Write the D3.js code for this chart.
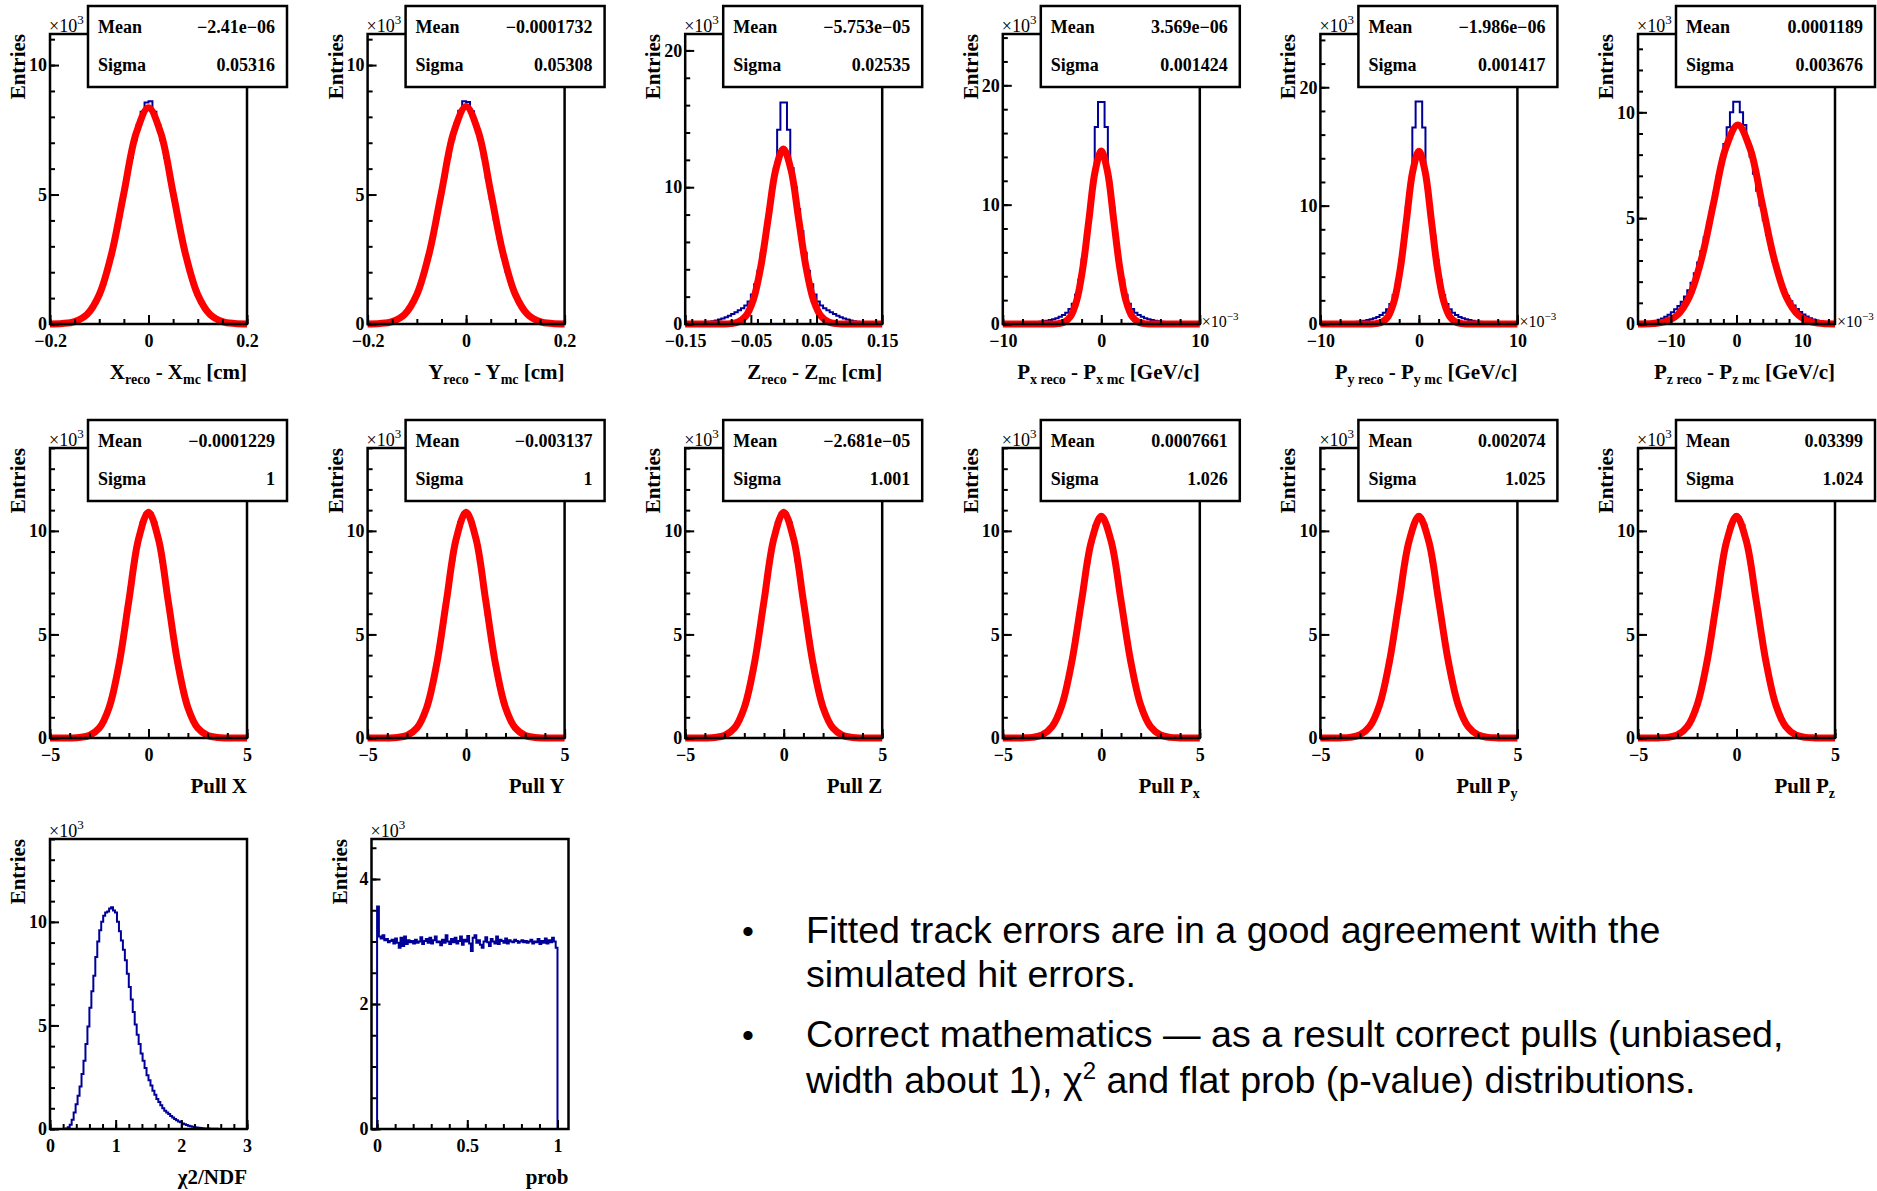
<!DOCTYPE html>
<html lang="en">
<head>
<meta charset="UTF-8">
<title>Track fit residuals, pulls, chi2 and prob</title>
<script src="https://d3js.org/d3.v7.min.js"></script>
<style>
  body { margin: 0; background: #fff; }
  svg text { font-family: "Liberation Serif", "Times New Roman", serif; }
</style>
</head>
<body>
<script>
// all counts are in units of 10^3 entries

// residuals, row 1
const resXBins = [0, 0.01, 0.01, 0.02, 0.04, 0.06, 0.10, 0.16, 0.25, 0.38, 0.56, 0.80, 1.12, 1.53, 2.02, 2.62, 3.3, 4.04, 4.83, 5.64, 6.41, 7.1, 7.7, 8.2, 8.55,
                  8.6, 8.2, 7.7, 7.1, 6.41, 5.64, 4.83, 4.04, 3.3, 2.62, 2.02, 1.53, 1.12, 0.80, 0.56, 0.38, 0.25, 0.16, 0.10, 0.06, 0.04, 0.02, 0.01, 0.01, 0];
const resXFitX = [-0.2, -0.175, -0.15, -0.125, -0.1, -0.075, -0.05, -0.025, 0, 0.025, 0.05, 0.075, 0.1, 0.125, 0.15, 0.175, 0.2];
const resXFitY = [0.0025, 0.018, 0.093, 0.367, 1.13, 2.71, 5.06, 7.37, 8.35, 7.37, 5.06, 2.71, 1.13, 0.367, 0.093, 0.018, 0.0025];

const resYBins = [0, 0.01, 0.01, 0.02, 0.04, 0.06, 0.10, 0.16, 0.25, 0.38, 0.56, 0.81, 1.13, 1.54, 2.03, 2.64, 3.32, 4.07, 4.86, 5.67, 6.45, 7.14, 7.74, 8.24, 8.6,
                  8.57, 8.22, 7.72, 7.12, 6.42, 5.64, 4.83, 4.04, 3.3, 2.62, 2.02, 1.53, 1.12, 0.80, 0.56, 0.38, 0.25, 0.16, 0.10, 0.06, 0.04, 0.02, 0.01, 0.01, 0];
const resYFitX = [-0.2, -0.175, -0.15, -0.125, -0.1, -0.075, -0.05, -0.025, 0, 0.025, 0.05, 0.075, 0.1, 0.125, 0.15, 0.175, 0.2];
const resYFitY = [0.0025, 0.018, 0.093, 0.369, 1.14, 2.73, 5.09, 7.41, 8.4, 7.41, 5.09, 2.73, 1.14, 0.369, 0.093, 0.018, 0.0025];

const resZBins = [0.05, 0.06, 0.07, 0.08, 0.10, 0.12, 0.14, 0.17, 0.21, 0.26, 0.32, 0.40, 0.50, 0.61, 0.73, 0.86, 1.0, 1.15, 1.35, 1.65, 2.15, 2.9, 3.9, 5.2, 6.8, 8.4, 10.0, 11.4, 14.2, 16.2,
                  16.2, 14.2, 11.4, 10.0, 8.4, 6.8, 5.2, 3.9, 2.9, 2.15, 1.65, 1.35, 1.15, 1.0, 0.86, 0.73, 0.61, 0.50, 0.40, 0.32, 0.26, 0.21, 0.17, 0.14, 0.12, 0.10, 0.08, 0.07, 0.06, 0.05];
const resZFitX = [-0.15, -0.0925, -0.081, -0.0695, -0.058, -0.0465, -0.035, -0.0235, -0.012, -0.0005, 0.011, 0.0225, 0.034, 0.0455, 0.057, 0.0685, 0.08, 0.0915, 0.15];
const resZFitY = [0, 0.004, 0.028, 0.142, 0.562, 1.73, 4.16, 7.76, 11.3, 12.8, 11.3, 7.76, 4.16, 1.73, 0.562, 0.142, 0.028, 0.004, 0];

// momentum residuals, x axis in 10^-3 GeV/c
const resPxBins = [0.02, 0.03, 0.03, 0.04, 0.05, 0.06, 0.07, 0.08, 0.10, 0.12, 0.15, 0.18, 0.22, 0.27, 0.33, 0.40, 0.49, 0.60, 0.75, 0.95, 1.25, 1.7, 2.45, 3.7, 5.4, 7.5, 9.8, 12.0, 16.5, 18.6,
                   18.6, 16.5, 12.0, 9.8, 7.5, 5.4, 3.7, 2.45, 1.7, 1.25, 0.95, 0.75, 0.60, 0.49, 0.40, 0.33, 0.27, 0.22, 0.18, 0.15, 0.12, 0.10, 0.08, 0.07, 0.06, 0.05, 0.04, 0.03, 0.03, 0.02];
const resPxFitX = [-10, -5, -4.375, -3.75, -3.125, -2.5, -1.875, -1.25, -0.625, 0, 0.625, 1.25, 1.875, 2.5, 3.125, 3.75, 4.375, 5, 10];
const resPxFitY = [0, 0.0044, 0.032, 0.161, 0.637, 1.96, 4.71, 8.79, 12.8, 14.5, 12.8, 8.79, 4.71, 1.96, 0.637, 0.161, 0.032, 0.0044, 0];

const resPyBins = [0.02, 0.03, 0.03, 0.04, 0.05, 0.06, 0.07, 0.08, 0.10, 0.12, 0.15, 0.18, 0.22, 0.27, 0.33, 0.40, 0.49, 0.60, 0.75, 0.95, 1.25, 1.7, 2.45, 3.7, 5.4, 7.5, 9.9, 12.1, 16.6, 18.8,
                   18.8, 16.6, 12.1, 9.9, 7.5, 5.4, 3.7, 2.45, 1.7, 1.25, 0.95, 0.75, 0.60, 0.49, 0.40, 0.33, 0.27, 0.22, 0.18, 0.15, 0.12, 0.10, 0.08, 0.07, 0.06, 0.05, 0.04, 0.03, 0.03, 0.02];
const resPyFitX = [-10, -5, -4.375, -3.75, -3.125, -2.5, -1.875, -1.25, -0.625, 0, 0.625, 1.25, 1.875, 2.5, 3.125, 3.75, 4.375, 5, 10];
const resPyFitY = [0, 0.0044, 0.032, 0.162, 0.641, 1.98, 4.74, 8.86, 12.9, 14.6, 12.9, 8.86, 4.74, 1.98, 0.641, 0.162, 0.032, 0.0044, 0];

const resPzBins = [0.04, 0.05, 0.06, 0.08, 0.11, 0.15, 0.20, 0.26, 0.34, 0.44, 0.56, 0.70, 0.85, 1.05, 1.3, 1.6, 1.95, 2.4, 2.9, 3.45, 4.1, 4.8, 5.5, 6.2, 7.0, 7.8, 8.5, 9.3, 10.0, 10.5,
                   10.5, 10.0, 9.4, 8.6, 7.9, 7.1, 6.3, 5.6, 4.9, 4.2, 3.55, 2.95, 2.45, 2.0, 1.62, 1.32, 1.07, 0.87, 0.71, 0.57, 0.45, 0.35, 0.27, 0.21, 0.16, 0.12, 0.09, 0.07, 0.05, 0.04];
const resPzFitX = [-15, -12.75, -10.9, -9.05, -7.2, -5.35, -3.5, -1.65, 0.2, 2.05, 3.9, 5.75, 7.6, 9.45, 11.3, 13.15, 15];
const resPzFitY = [0.002, 0.021, 0.104, 0.413, 1.27, 3.05, 5.70, 8.30, 9.4, 8.30, 5.70, 3.05, 1.27, 0.413, 0.104, 0.021, 0.002];

// pulls, row 2
const pullXBins = [0, 0, 0, 0, 0, 0, 0.01, 0.02, 0.05, 0.09, 0.16, 0.28, 0.48, 0.77, 1.20, 1.79, 2.57, 3.54, 4.69, 5.95, 7.27, 8.53, 9.62, 10.42, 10.85,
                   10.86, 10.41, 9.61, 8.52, 7.26, 5.94, 4.68, 3.53, 2.56, 1.78, 1.19, 0.77, 0.48, 0.28, 0.16, 0.09, 0.05, 0.02, 0.01, 0, 0, 0, 0, 0, 0];
const pullYBins = [0, 0, 0, 0, 0, 0, 0.01, 0.02, 0.05, 0.09, 0.16, 0.28, 0.48, 0.78, 1.21, 1.80, 2.58, 3.55, 4.70, 5.96, 7.28, 8.54, 9.63, 10.43, 10.86,
                   10.84, 10.40, 9.60, 8.51, 7.25, 5.93, 4.67, 3.52, 2.55, 1.77, 1.19, 0.76, 0.47, 0.28, 0.16, 0.09, 0.05, 0.02, 0.01, 0, 0, 0, 0, 0, 0];
const pullZBins = [0, 0, 0, 0, 0, 0, 0.01, 0.02, 0.05, 0.09, 0.16, 0.28, 0.48, 0.77, 1.20, 1.79, 2.57, 3.54, 4.69, 5.95, 7.27, 8.53, 9.62, 10.42, 10.85,
                   10.85, 10.42, 9.62, 8.53, 7.27, 5.95, 4.69, 3.54, 2.57, 1.79, 1.20, 0.77, 0.48, 0.28, 0.16, 0.09, 0.05, 0.02, 0.01, 0, 0, 0, 0, 0, 0];
const pullPxBins = [0, 0, 0, 0, 0, 0.01, 0.01, 0.03, 0.06, 0.11, 0.19, 0.33, 0.55, 0.86, 1.31, 1.92, 2.7, 3.67, 4.79, 6.01, 7.28, 8.47, 9.5, 10.25, 10.65,
                    10.66, 10.26, 9.51, 8.48, 7.29, 6.02, 4.80, 3.68, 2.71, 1.93, 1.32, 0.87, 0.55, 0.33, 0.19, 0.11, 0.06, 0.03, 0.01, 0.01, 0, 0, 0, 0, 0];
const pullPyBins = [0, 0, 0, 0, 0, 0.01, 0.01, 0.03, 0.06, 0.11, 0.19, 0.33, 0.55, 0.86, 1.31, 1.92, 2.7, 3.67, 4.78, 6.0, 7.27, 8.46, 9.49, 10.24, 10.64,
                    10.66, 10.26, 9.51, 8.48, 7.29, 6.02, 4.80, 3.68, 2.71, 1.93, 1.32, 0.87, 0.55, 0.33, 0.19, 0.11, 0.06, 0.03, 0.01, 0.01, 0, 0, 0, 0, 0];
const pullPzBins = [0, 0, 0, 0, 0, 0.01, 0.01, 0.03, 0.05, 0.10, 0.18, 0.31, 0.52, 0.82, 1.26, 1.86, 2.63, 3.60, 4.72, 5.95, 7.23, 8.43, 9.47, 10.23, 10.65,
                    10.67, 10.28, 9.55, 8.53, 7.35, 6.08, 4.86, 3.74, 2.77, 1.98, 1.36, 0.90, 0.57, 0.35, 0.20, 0.12, 0.06, 0.03, 0.01, 0.01, 0, 0, 0, 0, 0];

const pullFitX = [-5, -4, -3.5, -3, -2.5, -2, -1.5, -1, -0.5, 0, 0.5, 1, 1.5, 2, 2.5, 3, 3.5, 4, 5];
const pullXFitY = [0, 0.003, 0.024, 0.121, 0.479, 1.47, 3.54, 6.61, 9.62, 10.9, 9.62, 6.61, 3.54, 1.47, 0.479, 0.121, 0.024, 0.003, 0];
const pullPFitY = [0, 0.005, 0.031, 0.148, 0.546, 1.59, 3.67, 6.64, 9.50, 10.7, 9.50, 6.64, 3.67, 1.59, 0.546, 0.148, 0.031, 0.005, 0];

// chi2/NDF and prob, row 3
const chi2Bins = [0, 0, 0, 0, 0, 0, 0, 0, 0.02, 0.08, 0.2, 0.45, 0.8, 1.2, 1.6, 2.05, 2.65, 3.3, 4.1, 4.95,
                  5.85, 6.65, 7.4, 8.3, 9.05, 9.6, 10.0, 10.3, 10.45, 10.5, 10.65, 10.7, 10.55, 10.45, 10.0, 9.55, 9.1, 8.65, 8.15, 7.5,
                  6.85, 6.25, 5.65, 5.05, 4.55, 4.1, 3.65, 3.3, 2.95, 2.6, 2.35, 2.1, 1.85, 1.65, 1.45, 1.3, 1.15, 1.0, 0.88, 0.8,
                  0.72, 0.63, 0.55, 0.48, 0.42, 0.36, 0.32, 0.27, 0.23, 0.19, 0.16, 0.13, 0.11, 0.09, 0.07, 0.06, 0.05, 0.04, 0.03, 0.02,
                  0.02, 0.01, 0.01, 0.01, 0.01, 0, 0, 0, 0, 0, 0, 0, 0, 0, 0, 0, 0, 0, 0, 0];
const probBins = [3.56, 3.08, 3.05, 3.1, 3.02, 3.04, 2.99, 3.01, 3.03, 2.97,
                  3.05, 2.98, 2.9, 3.06, 2.93, 3.08, 2.96, 3.02, 2.99, 3.01,
                  2.97, 3.03, 2.98, 3.0, 3.07, 2.96, 3.01, 3.04, 2.98, 3.06,
                  2.97, 3.02, 3.08, 2.99, 3.0, 2.94, 3.03, 2.98, 3.1, 3.0,
                  2.96, 3.04, 2.99, 3.06, 2.97, 3.01, 3.08, 2.95, 3.03, 3.0,
                  3.09, 2.97, 2.85, 3.06, 3.1, 2.98, 3.02, 2.95, 2.9, 3.0,
                  3.07, 2.99, 2.93, 3.04, 3.0, 2.97, 3.08, 2.96, 3.03, 3.01,
                  2.98, 3.05, 2.97, 3.02, 3.0, 2.99, 3.03, 3.01, 2.98, 3.0,
                  3.02, 2.99, 3.01, 2.98, 3.0, 3.03, 2.97, 3.0, 2.99, 3.04,
                  2.96, 3.01, 2.98, 3.05, 2.97, 3.02, 2.99, 3.06, 3.0, 2.9];

// stats boxes
const statMean = ["\u22122.41e\u221206", "\u22120.0001732", "\u22125.753e\u221205", "3.569e\u221206", "\u22121.986e\u221206", "0.0001189",
                  "\u22120.0001229", "\u22120.003137", "\u22122.681e\u221205", "0.0007661", "0.002074", "0.03399"];
const statSigma = ["0.05316", "0.05308", "0.02535", "0.001424", "0.001417", "0.003676",
                   "1", "1", "1.001", "1.026", "1.025", "1.024"];

// axis titles: [text, "sub"|"sup"]
const titles = [
  [["X"], ["reco", "sub"], [" - X"], ["mc", "sub"], [" [cm]"]],
  [["Y"], ["reco", "sub"], [" - Y"], ["mc", "sub"], [" [cm]"]],
  [["Z"], ["reco", "sub"], [" - Z"], ["mc", "sub"], [" [cm]"]],
  [["P"], ["x reco", "sub"], [" - P"], ["x mc", "sub"], [" [GeV/c]"]],
  [["P"], ["y reco", "sub"], [" - P"], ["y mc", "sub"], [" [GeV/c]"]],
  [["P"], ["z reco", "sub"], [" - P"], ["z mc", "sub"], [" [GeV/c]"]],
  [["Pull X"]], [["Pull Y"]], [["Pull Z"]],
  [["Pull P"], ["x", "sub"]], [["Pull P"], ["y", "sub"]], [["Pull P"], ["z", "sub"]],
  [["\u03c72/NDF"]], [["prob"]]
];

const bulletText = [
  [[["Fitted track errors are in a good agreement with the"]], [["simulated hit errors."]]],
  [[["Correct mathematics \u2014 as a result correct pulls (unbiased,"]],
   [["width about 1), \u03c7"], ["2", "sup"], [" and flat prob (p-value) distributions."]]]
];

// ---- layout ----
const COLS = [50, 367.6, 685.2, 1002.8, 1320.4, 1638];
const ROWS = [34, 448, 839];
const W = 197, H = 290;

const panels = [
  {left: COLS[0], top: ROWS[0], xDomain: [-0.2, 0.2], histRange: [-0.2, 0.2], yMax: 11.2, bins: resXBins, fitX: resXFitX, fitY: resXFitY, xMajor: [-0.2, 0, 0.2], xStep: 0.05, yMajor: [0, 5, 10], yStep: 1},
  {left: COLS[1], top: ROWS[0], xDomain: [-0.2, 0.2], histRange: [-0.2, 0.2], yMax: 11.2, bins: resYBins, fitX: resYFitX, fitY: resYFitY, xMajor: [-0.2, 0, 0.2], xStep: 0.05, yMajor: [0, 5, 10], yStep: 1},
  {left: COLS[2], top: ROWS[0], xDomain: [-0.15, 0.15], histRange: [-0.15, 0.15], yMax: 21.2, bins: resZBins, fitX: resZFitX, fitY: resZFitY, xMajor: [-0.15, -0.05, 0.05, 0.15], xStep: 0.02, yMajor: [0, 10, 20], yStep: 2},
  {left: COLS[3], top: ROWS[0], xDomain: [-10, 10], histRange: [-10, 10], yMax: 24.3, bins: resPxBins, fitX: resPxFitX, fitY: resPxFitY, xMajor: [-10, 0, 10], xStep: 2, yMajor: [0, 10, 20], yStep: 2, xExp: true},
  {left: COLS[4], top: ROWS[0], xDomain: [-10, 10], histRange: [-10, 10], yMax: 24.5, bins: resPyBins, fitX: resPyFitX, fitY: resPyFitY, xMajor: [-10, 0, 10], xStep: 2, yMajor: [0, 10, 20], yStep: 2, xExp: true},
  {left: COLS[5], top: ROWS[0], xDomain: [-15, 15], histRange: [-15, 15], yMax: 13.7, bins: resPzBins, fitX: resPzFitX, fitY: resPzFitY, xMajor: [-10, 0, 10], xStep: 2, yMajor: [0, 5, 10], yStep: 1, xExp: true},
  {left: COLS[0], top: ROWS[1], xDomain: [-5, 5], histRange: [-5, 5], yMax: 14.0, bins: pullXBins, fitX: pullFitX, fitY: pullXFitY, xMajor: [-5, 0, 5], xStep: 1, yMajor: [0, 5, 10], yStep: 1},
  {left: COLS[1], top: ROWS[1], xDomain: [-5, 5], histRange: [-5, 5], yMax: 14.0, bins: pullYBins, fitX: pullFitX, fitY: pullXFitY, xMajor: [-5, 0, 5], xStep: 1, yMajor: [0, 5, 10], yStep: 1},
  {left: COLS[2], top: ROWS[1], xDomain: [-5, 5], histRange: [-5, 5], yMax: 14.0, bins: pullZBins, fitX: pullFitX, fitY: pullXFitY, xMajor: [-5, 0, 5], xStep: 1, yMajor: [0, 5, 10], yStep: 1},
  {left: COLS[3], top: ROWS[1], xDomain: [-5, 5], histRange: [-5, 5], yMax: 14.0, bins: pullPxBins, fitX: pullFitX, fitY: pullPFitY, xMajor: [-5, 0, 5], xStep: 1, yMajor: [0, 5, 10], yStep: 1},
  {left: COLS[4], top: ROWS[1], xDomain: [-5, 5], histRange: [-5, 5], yMax: 14.0, bins: pullPyBins, fitX: pullFitX, fitY: pullPFitY, xMajor: [-5, 0, 5], xStep: 1, yMajor: [0, 5, 10], yStep: 1},
  {left: COLS[5], top: ROWS[1], xDomain: [-5, 5], histRange: [-5, 5], yMax: 14.0, bins: pullPzBins, fitX: pullFitX, fitY: pullPFitY, xMajor: [-5, 0, 5], xStep: 1, yMajor: [0, 5, 10], yStep: 1},
  {left: 50, top: ROWS[2], xDomain: [0, 3], histRange: [0, 3], yMax: 14.0, bins: chi2Bins, xMajor: [0, 1, 2, 3], xStep: 0.2, yMajor: [0, 5, 10], yStep: 1},
  {left: 371.5, top: ROWS[2], xDomain: [-0.031, 1.061], histRange: [0, 1], yMax: 4.64, bins: probBins, xMajor: [0, 0.5, 1], xStep: 0.1, yMajor: [0, 2, 4], yStep: 0.5}
];

const svg = d3.select("body").append("svg")
    .attr("width", 1877)
    .attr("height", 1191)
    .style("display", "block");

function richText(t, parts, subSize, shift) {
  let cur = 0;
  parts.forEach(([s, kind]) => {
    const target = kind === "sub" ? shift : kind === "sup" ? -shift : 0;
    const ts = t.append("tspan").text(s);
    if (target !== cur) ts.attr("dy", target - cur);
    if (kind) ts.attr("font-size", subSize);
    cur = target;
  });
}

function minorTicks(dom, step) {
  const out = [];
  const k0 = Math.ceil(dom[0] / step - 1e-6), k1 = Math.floor(dom[1] / step + 1e-6);
  for (let k = k0; k <= k1; k++) out.push(+(k * step).toFixed(6));
  return out;
}

const fmt = v => (v < 0 ? "\u2212" + String(-v) : String(v));

function styleAxis(g) {
  g.select(".domain").remove();
  g.selectAll("line").attr("stroke", "#000").attr("stroke-width", 2);
  g.selectAll("text").attr("fill", "#000")
    .style("font-family", "'Liberation Serif', 'Times New Roman', serif")
    .style("font-size", "18px").style("font-weight", "bold");
}

function drawPanel(p, idx) {
  const left = p.left, top = p.top, right = left + W, bottom = top + H;
  const x = d3.scaleLinear().domain(p.xDomain).range([left, right]);
  const y = d3.scaleLinear().domain([0, p.yMax]).range([bottom, top]);
  const g = svg.append("g");

  // histogram outline
  const n = p.bins.length, h0 = p.histRange[0], bw = (p.histRange[1] - h0) / n;
  const hp = d3.path();
  hp.moveTo(x(h0), y(0));
  p.bins.forEach((v, i) => {
    hp.lineTo(x(h0 + i * bw), y(v));
    hp.lineTo(x(h0 + (i + 1) * bw), y(v));
  });
  hp.lineTo(x(p.histRange[1]), y(0));
  g.append("path").attr("d", hp.toString())
    .attr("fill", "none").attr("stroke", "#000099").attr("stroke-width", 2);

  // gaussian fit
  if (p.fitX) {
    const line = d3.line().x(d => x(d[0])).y(d => y(d[1])).curve(d3.curveCatmullRom);
    g.append("path").attr("d", line(d3.zip(p.fitX, p.fitY)))
      .attr("fill", "none").attr("stroke", "#ff0000").attr("stroke-width", 7)
      .attr("stroke-linejoin", "round");
  }

  // axes, ticks inside the frame
  g.append("g").attr("transform", `translate(0,${bottom})`)
    .call(d3.axisBottom(x).tickValues(minorTicks(p.xDomain, p.xStep)).tickSize(-5).tickFormat(""))
    .call(styleAxis);
  g.append("g").attr("transform", `translate(0,${bottom})`)
    .call(d3.axisBottom(x).tickValues(p.xMajor).tickSize(-9).tickPadding(10).tickFormat(fmt))
    .call(styleAxis);
  g.append("g").attr("transform", `translate(${left},0)`)
    .call(d3.axisLeft(y).tickValues(minorTicks([0, p.yMax], p.yStep)).tickSize(-5).tickFormat(""))
    .call(styleAxis);
  g.append("g").attr("transform", `translate(${left},0)`)
    .call(d3.axisLeft(y).tickValues(p.yMajor).tickSize(-9).tickPadding(3).tickFormat(fmt))
    .call(styleAxis);

  g.append("rect").attr("x", left).attr("y", top).attr("width", W).attr("height", H)
    .attr("fill", "none").attr("stroke", "#000").attr("stroke-width", 2.5);

  // x10^3 on the y axis
  const ex = g.append("text").attr("x", left - 1).attr("y", top - 2).attr("font-size", 18);
  richText(ex, [["\u00d710"], ["3", "sup"]], 13, 8);
  if (p.xExp) {
    const ex2 = g.append("text").attr("x", right + 2).attr("y", bottom + 3).attr("font-size", 16);
    richText(ex2, [["\u00d710"], ["\u22123", "sup"]], 11, 7);
  }

  // titles
  const tt = g.append("text").attr("x", right).attr("y", bottom + 55)
    .attr("text-anchor", "end").attr("font-size", 21).attr("font-weight", "bold");
  richText(tt, titles[idx], 14, 5);
  g.append("text").attr("transform", `translate(${left - 25},${top}) rotate(-90)`)
    .attr("text-anchor", "end").attr("font-size", 21).attr("font-weight", "bold")
    .text("Entries");

  // stats box
  if (idx < statMean.length) {
    const bx = left + 38, by = top - 28, bwid = 199, bh = 81;
    g.append("rect").attr("x", bx).attr("y", by).attr("width", bwid).attr("height", bh)
      .attr("fill", "#fff").attr("stroke", "#000").attr("stroke-width", 2.5);
    const rows = [["Mean", statMean[idx], 27], ["Sigma", statSigma[idx], 65]];
    rows.forEach(([k, v, dy]) => {
      g.append("text").attr("x", bx + 10).attr("y", by + dy)
        .attr("font-size", 18).attr("font-weight", "bold").text(k);
      g.append("text").attr("x", bx + bwid - 12).attr("y", by + dy).attr("text-anchor", "end")
        .attr("font-size", 18).attr("font-weight", "bold").text(v);
    });
  }
}

panels.forEach(drawPanel);

// bullet notes
const notes = svg.append("g").attr("class", "bullets");
const lineY = [[943, 987], [1047, 1093]];
bulletText.forEach((lines, b) => {
  notes.append("text").attr("x", 748).attr("y", lineY[b][0])
    .attr("text-anchor", "middle").attr("font-size", 34)
    .style("font-family", "Liberation Sans, Arial, sans-serif").text("\u2022");
  lines.forEach((parts, l) => {
    const t = notes.append("text").attr("x", 806).attr("y", lineY[b][l])
      .attr("font-size", 37.6).style("font-family", "Liberation Sans, Arial, sans-serif");
    richText(t, parts, 24, 14);
  });
});
</script>
</body>
</html>
